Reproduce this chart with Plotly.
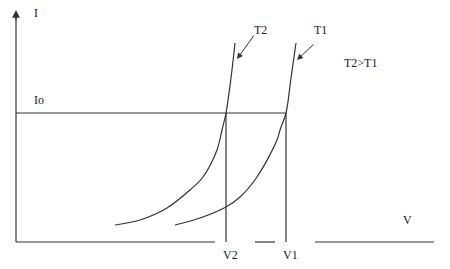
import plotly.graph_objects as go

# Curve data (V, I) relative to origin
T2_V = [99, 124, 151, 174, 187, 201, 206, 210, 215, 219]
T2_I = [17, 22, 34, 52, 65, 92, 112, 129, 164, 199]
T1_V = [159, 184, 210, 224, 241, 261, 264, 270, 275, 280]
T1_I = [17, 24, 35, 45, 65, 102, 112, 129, 164, 199]

I0 = 129
V2 = 210
V1 = 270
I_AXIS_TOP = 232
V_SEGMENTS = [(0, 199), (239, 259), (299, 418)]

LINE = "#333333"
FONT = dict(family="Liberation Serif", size=12, color="#222222")

fig = go.Figure()

def seg(xs, ys):
    fig.add_trace(go.Scatter(x=xs, y=ys, mode="lines",
                             line=dict(color=LINE, width=1.2),
                             hoverinfo="skip", showlegend=False))

# I axis
seg([0, 0], [0, I_AXIS_TOP - 4])
# V axis segments
for a, b in V_SEGMENTS:
    seg([a, b], [0, 0])
# Io line
seg([0, V1], [I0, I0])
# vertical lines at V2, V1
seg([V2, V2], [0, I0])
seg([V1, V1], [0, I0])
# curves
fig.add_trace(go.Scatter(x=T2_V, y=T2_I, mode="lines", line=dict(color=LINE, width=1.2, shape="spline"),
                         hoverinfo="skip", showlegend=False))
fig.add_trace(go.Scatter(x=T1_V, y=T1_I, mode="lines", line=dict(color=LINE, width=1.2, shape="spline"),
                         hoverinfo="skip", showlegend=False))

# axis arrow
fig.add_annotation(x=0, y=I_AXIS_TOP, ax=0, ay=I_AXIS_TOP - 12, xref="x", yref="y", axref="x", ayref="y",
                   showarrow=True, arrowhead=2, arrowsize=1.3, arrowwidth=1.2, arrowcolor=LINE, text="")
# curve label arrows
fig.add_annotation(x=221, y=183, ax=239, ay=208, xref="x", yref="y", axref="x", ayref="y",
                   showarrow=True, arrowhead=2, arrowsize=1.2, arrowwidth=1, arrowcolor=LINE, text="")
fig.add_annotation(x=281, y=182, ax=299, ay=199, xref="x", yref="y", axref="x", ayref="y",
                   showarrow=True, arrowhead=2, arrowsize=1.2, arrowwidth=1, arrowcolor=LINE, text="")

labels = [("I", 20, 229), ("Io", 23, 142), ("V2", 214, -13), ("V1", 274, -13),
          ("V", 391, 22), ("T2", 244, 212), ("T1", 304, 212), ("T2>T1", 344, 179)]
for t, x, y in labels:
    fig.add_annotation(x=x, y=y, text=t, showarrow=False, font=FONT, xref="x", yref="y")

fig.update_layout(width=450, height=269, margin=dict(l=0, r=0, t=0, b=0),
                  paper_bgcolor="white", plot_bgcolor="white",
                  xaxis=dict(range=[-16, 434], visible=False, fixedrange=True),
                  yaxis=dict(range=[-27, 242], visible=False, fixedrange=True))

fig.write_html("out.html")
